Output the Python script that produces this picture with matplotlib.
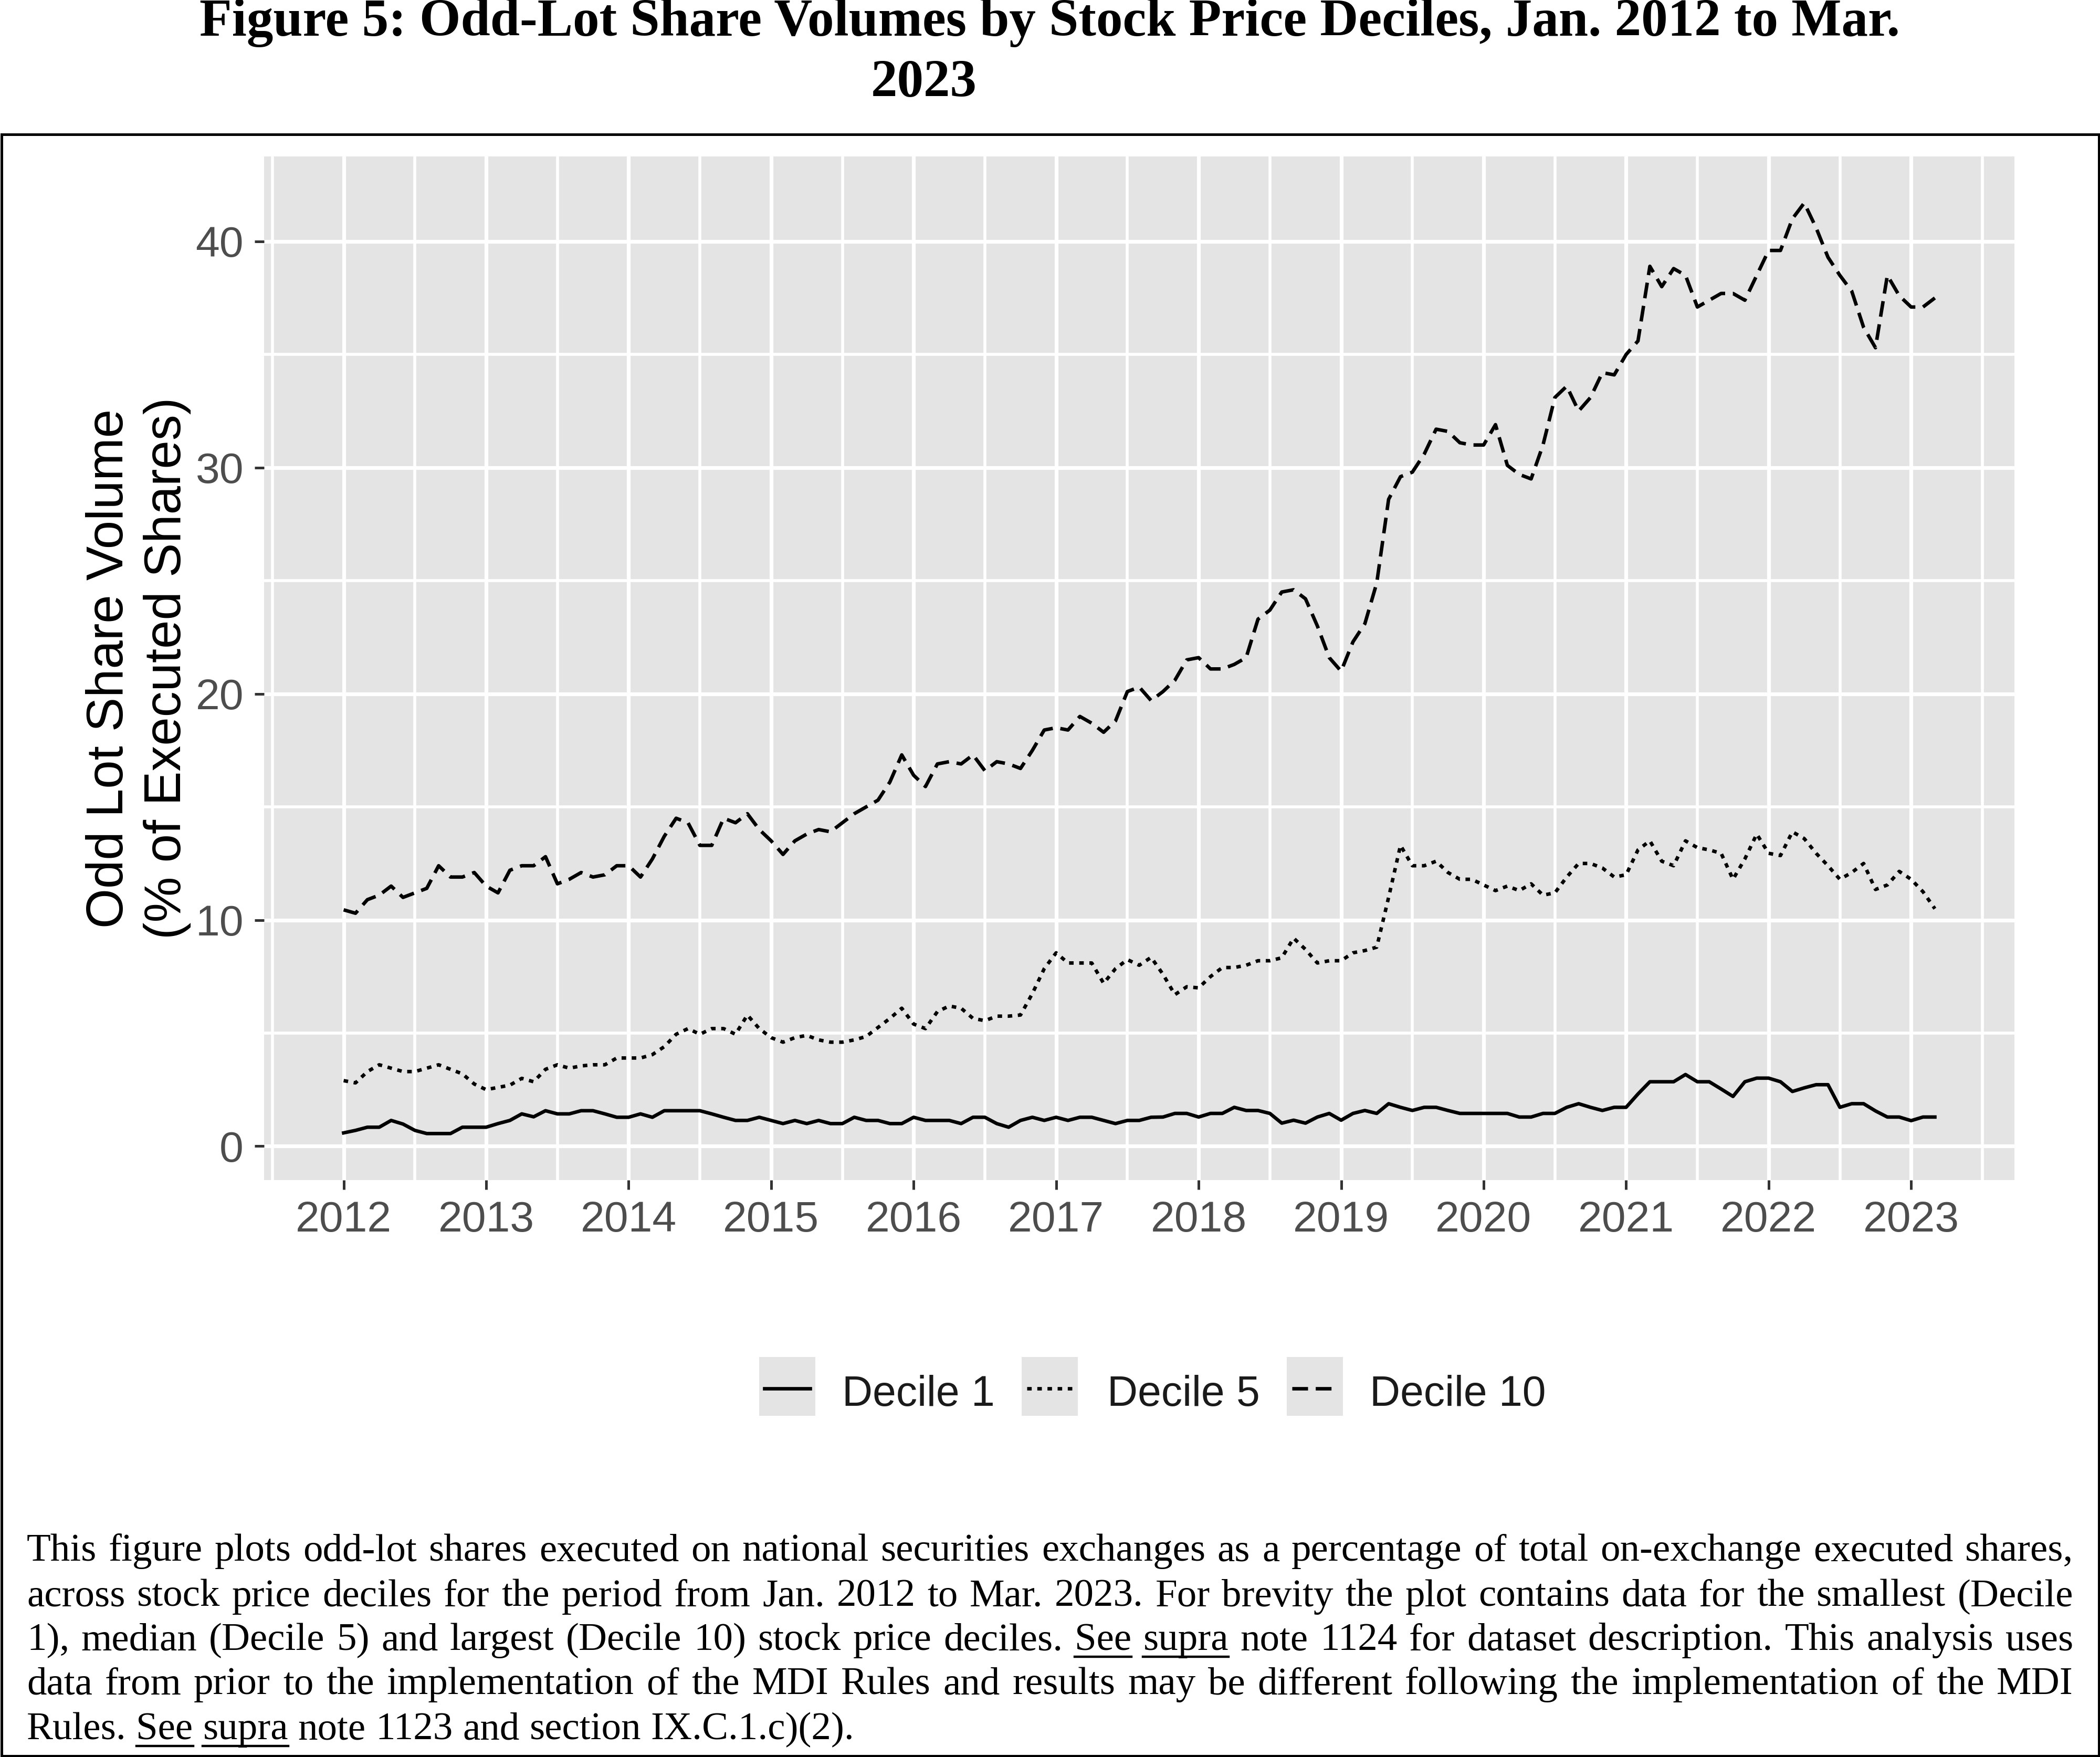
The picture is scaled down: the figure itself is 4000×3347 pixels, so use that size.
import numpy as np
import pandas as pd
import matplotlib
matplotlib.use('Agg')
import matplotlib.pyplot as plt
from matplotlib.lines import Line2D
from matplotlib.patches import Rectangle
from matplotlib.ticker import MultipleLocator

# monthly data, Jan 2012 .. Mar 2023
months = pd.date_range('2012-01-01', '2023-03-01', freq='MS')

decile_1 = [0.59, 0.70, 0.84, 0.84, 1.14, 0.98, 0.70, 0.56, 0.56, 0.56, 0.84, 0.84,
            0.84, 1.00, 1.14, 1.43, 1.30, 1.57, 1.43, 1.43, 1.57, 1.57, 1.43, 1.28,
            1.28, 1.43, 1.28, 1.57, 1.57, 1.57, 1.57, 1.43, 1.28, 1.14, 1.14, 1.28,
            1.14, 1.00, 1.14, 1.00, 1.14, 1.00, 1.00, 1.28, 1.14, 1.14, 1.00, 1.00,
            1.28, 1.14, 1.14, 1.14, 1.00, 1.28, 1.28, 1.00, 0.84, 1.14, 1.28, 1.14,
            1.28, 1.14, 1.28, 1.28, 1.14, 1.00, 1.14, 1.14, 1.28, 1.29, 1.45, 1.45,
            1.29, 1.45, 1.45, 1.72, 1.58, 1.58, 1.45, 1.02, 1.15, 1.02, 1.29, 1.45,
            1.15, 1.45, 1.58, 1.45, 1.88, 1.72, 1.58, 1.72, 1.72, 1.58, 1.45, 1.45,
            1.45, 1.45, 1.45, 1.29, 1.29, 1.45, 1.45, 1.72, 1.88, 1.72, 1.58, 1.72,
            1.72, 2.31, 2.85, 2.85, 2.85, 3.17, 2.85, 2.85, 2.53, 2.20, 2.85, 3.01,
            3.01, 2.85, 2.42, 2.58, 2.72, 2.72, 1.72, 1.88, 1.88, 1.56, 1.29, 1.29,
            1.13, 1.29, 1.29]

decile_5 = [2.90, 2.80, 3.30, 3.60, 3.45, 3.30, 3.30, 3.45, 3.60, 3.40, 3.20, 2.75,
            2.50, 2.60, 2.70, 3.00, 2.85, 3.40, 3.60, 3.45, 3.55, 3.60, 3.60, 3.90,
            3.90, 3.90, 4.05, 4.40, 4.95, 5.20, 4.95, 5.20, 5.20, 4.95, 5.80, 5.20,
            4.80, 4.60, 4.80, 4.90, 4.70, 4.60, 4.60, 4.70, 4.85, 5.25, 5.65, 6.10,
            5.40, 5.20, 5.95, 6.20, 6.10, 5.65, 5.55, 5.75, 5.75, 5.80, 6.75, 7.85,
            8.55, 8.10, 8.10, 8.10, 7.20, 7.85, 8.25, 8.00, 8.35, 7.60, 6.70, 7.05,
            7.00, 7.50, 7.90, 7.90, 8.00, 8.20, 8.20, 8.33, 9.20, 8.70, 8.10, 8.20,
            8.20, 8.55, 8.65, 8.80, 11.00, 13.30, 12.40, 12.40, 12.60, 12.10, 11.80, 11.80,
            11.55, 11.30, 11.50, 11.30, 11.60, 11.10, 11.20, 11.90, 12.50, 12.50, 12.30, 11.90,
            12.00, 13.10, 13.50, 12.60, 12.40, 13.50, 13.20, 13.10, 12.95, 11.80, 12.70, 13.80,
            12.95, 12.85, 13.90, 13.60, 12.95, 12.40, 11.80, 12.10, 12.50, 11.35, 11.55, 12.15,
            11.80, 11.25, 10.50]

decile_10 = [10.45, 10.30, 10.90, 11.10, 11.50, 11.00, 11.20, 11.40, 12.40, 11.90, 11.90, 12.10,
             11.50, 11.20, 12.20, 12.40, 12.40, 12.80, 11.60, 11.80, 12.10, 11.90, 12.00, 12.40,
             12.40, 11.90, 12.70, 13.70, 14.50, 14.30, 13.30, 13.30, 14.50, 14.30, 14.70, 14.00,
             13.50, 12.90, 13.50, 13.80, 14.00, 13.90, 14.30, 14.70, 15.00, 15.30, 16.10, 17.30,
             16.40, 15.90, 16.90, 17.00, 16.90, 17.30, 16.60, 17.00, 16.90, 16.70, 17.50, 18.40,
             18.50, 18.40, 19.00, 18.70, 18.30, 18.80, 20.10, 20.30, 19.70, 20.10, 20.60, 21.50,
             21.60, 21.10, 21.10, 21.30, 21.60, 23.30, 23.70, 24.50, 24.60, 24.20, 23.00, 21.60,
             21.00, 22.30, 23.10, 24.90, 28.60, 29.60, 29.80, 30.60, 31.70, 31.60, 31.10, 31.00,
             31.00, 31.90, 30.10, 29.70, 29.50, 31.00, 33.10, 33.60, 32.50, 33.10, 34.20, 34.10,
             35.00, 35.60, 38.90, 38.00, 38.80, 38.50, 37.10, 37.40, 37.70, 37.70, 37.40, 38.50,
             39.60, 39.60, 41.00, 41.70, 40.60, 39.30, 38.50, 37.80, 36.20, 35.30, 38.50, 37.60,
             37.10, 37.10, 37.50]

series_names = ['Decile 1', 'Decile 5', 'Decile 10']
year_ticks = list(range(2012, 2024))
y_ticks = [0, 10, 20, 30, 40]

title_line1 = 'Figure 5: Odd-Lot Share Volumes by Stock Price Deciles, Jan. 2012 to Mar.'
title_line2 = '2023'
caption_lines = [
    'This figure plots odd-lot shares executed on national securities exchanges as a percentage of total on-exchange executed shares,',
    'across stock price deciles for the period from Jan. 2012 to Mar. 2023. For brevity the plot contains data for the smallest (Decile',
    '1), median (Decile 5) and largest (Decile 10) stock price deciles. See supra note 1124 for dataset description. This analysis uses',
    'data from prior to the implementation of the MDI Rules and results may be different following the implementation of the MDI',
    'Rules. See supra note 1123 and section IX.C.1.c)(2).',
]
underlined = {'See', 'supra'}

SERIF = ['Liberation Serif', 'DejaVu Serif']
SANS = ['Liberation Sans', 'DejaVu Sans']

W, H = 4000, 3347
fig = plt.figure(figsize=(W / 400, H / 400), dpi=400)
fig.patch.set_facecolor('white')

# decimal year for each month
xt = np.array([d.year + (d.month - 1) / 12 for d in months])

ax = fig.add_axes([503 / W, 1 - 2248 / H, (3837 - 503) / W, (2248 - 298) / H])
ax.set_facecolor('#E4E4E4')
for s in ax.spines.values():
    s.set_visible(False)

styles = ['solid', (0, (1.3, 1.6)), (0, (4.5, 2.2))]
for vals, ls in zip([decile_1, decile_5, decile_10], styles):
    ax.plot(xt, vals, color='black', lw=1.2, linestyle=ls, zorder=3)

# ggplot-like expansion (5%)
xr = xt[-1] - xt[0]
ax.set_xlim(xt[0] - 0.05 * xr, xt[-1] + 0.05 * xr)
allv = decile_1 + decile_5 + decile_10
yr = max(allv) - min(allv)
ax.set_ylim(min(allv) - 0.05 * yr, max(allv) + 0.05 * yr)

ax.set_xticks(year_ticks)
ax.set_yticks(y_ticks)
ax.xaxis.set_minor_locator(MultipleLocator(0.5))
ax.yaxis.set_minor_locator(MultipleLocator(5))
ax.grid(True, which='major', color='white', lw=1.3, zorder=1)
ax.grid(True, which='minor', color='white', lw=1.0, zorder=1)
ax.set_axisbelow(True)
ax.tick_params(which='minor', length=0)
ax.tick_params(which='major', length=3.2, width=0.9, color='#333333',
               labelsize=14.8, labelcolor='#4D4D4D', pad=3.8)
for lab in ax.get_xticklabels() + ax.get_yticklabels():
    lab.set_family(SANS)

# y label (two lines)
yc = 1 - (298 + 2248) / 2 / H
fig.text(209 / W, yc, 'Odd Lot Share Volume', rotation=90, ha='center', va='center',
         fontsize=17.6, family=SANS, color='black')
fig.text(319 / W, yc, '(% of Executed Shares)', rotation=90, ha='center', va='center',
         fontsize=17.6, family=SANS, color='black')

# legend drawn by hand (grey key boxes like ggplot)
key_left = [1446, 1946, 2451]
text_left = [1604, 2109, 2609]
for name, ls, kx, tx in zip(series_names, styles, key_left, text_left):
    fig.patches.append(Rectangle((kx / W, 1 - 2697 / H), 107 / W, 112 / H,
                                 transform=fig.transFigure, facecolor='#E4E4E4',
                                 edgecolor='none'))
    fig.lines.append(Line2D([(kx + 10) / W, (kx + 97) / W], [1 - 2645 / H] * 2,
                            transform=fig.transFigure, color='black', lw=1.2,
                            linestyle=ls))
    fig.text(tx / W, 1 - 2678 / H, name, ha='left', va='baseline', fontsize=14.5,
             family=SANS, color='#1A1A1A')

# title
fig.text(0.5, 1 - 68 / H, title_line1, ha='center', va='baseline', fontsize=18.2,
         fontweight='bold', family=SERIF)
fig.text(1760 / W, 1 - 183 / H, title_line2, ha='center', va='baseline', fontsize=18.2,
         fontweight='bold', family=SERIF)

# frame around chart + caption
fig.patches.append(Rectangle((2.5 / W, 2.5 / H), (W - 5) / W, (H - 256 - 2.5) / H,
                             transform=fig.transFigure, fill=False, lw=0.9,
                             edgecolor='black'))

# caption, justified line by line
renderer = fig.canvas.get_renderer()
cap_fs = 13.5
x0, x1 = 51, 3949
baselines = [2973, 3060, 3143, 3227, 3313]


def measure(s):
    t = fig.text(0, 0, s, fontsize=cap_fs, family=SERIF)
    w = t.get_window_extent(renderer).width
    t.remove()
    return w


space_w = measure('a a') - measure('aa')
for k, (line, yb) in enumerate(zip(caption_lines, baselines)):
    words = line.split(' ')
    widths = [measure(w) for w in words]
    if k < len(caption_lines) - 1:
        gap = (x1 - x0 - sum(widths)) / (len(words) - 1)
    else:
        gap = space_w
    x = x0
    for w, ww in zip(words, widths):
        fig.text(x / W, 1 - yb / H, w, fontsize=cap_fs, family=SERIF,
                 ha='left', va='baseline')
        if w in underlined:
            fig.lines.append(Line2D([x / W, (x + ww) / W], [1 - (yb + 13) / H] * 2,
                                    transform=fig.transFigure, color='black', lw=0.8))
        x += ww + gap

fig.savefig('out.png', dpi=400)
